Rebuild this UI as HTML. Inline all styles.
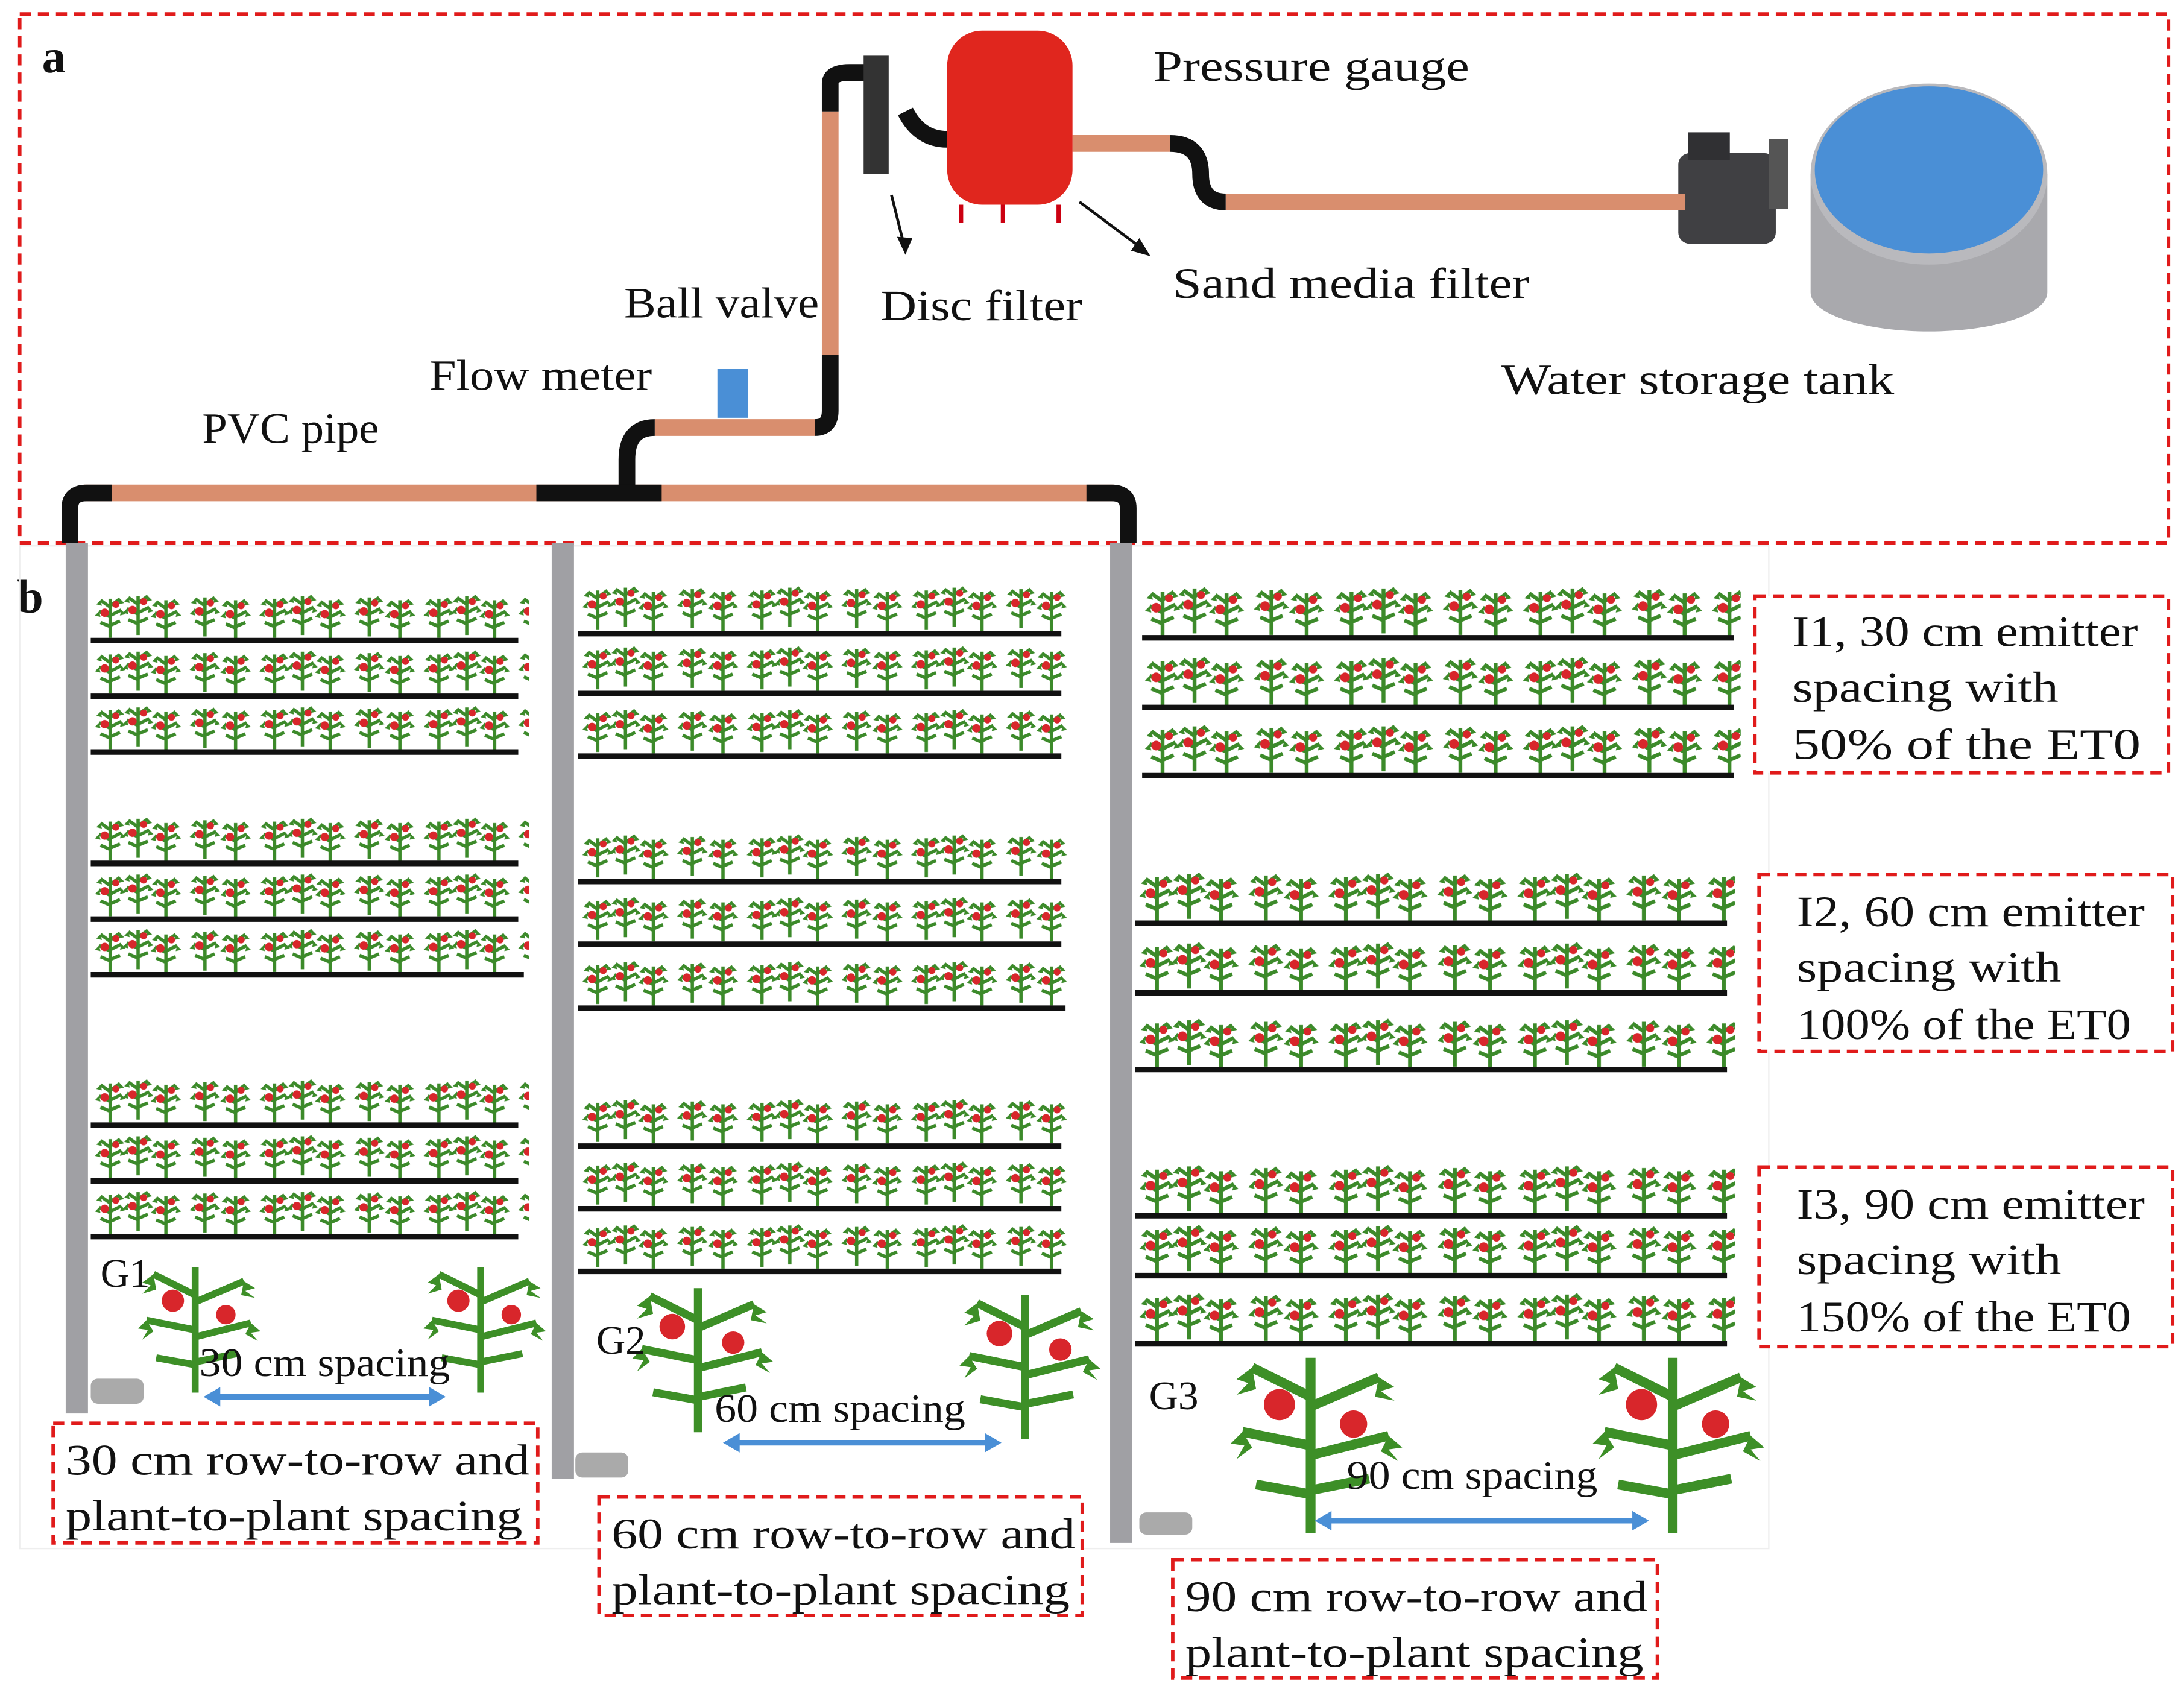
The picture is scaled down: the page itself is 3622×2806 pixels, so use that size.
<!DOCTYPE html>
<html><head><meta charset="utf-8"><style>
html,body{margin:0;padding:0;background:#fff;}
svg{display:block;}
text{font-family:"Liberation Serif",serif;fill:#111;}
</style></head><body>
<svg width="3622" height="2806" viewBox="0 0 1568 1215" xmlns="http://www.w3.org/2000/svg">
<defs>
<g id="pl">
 <path d="M9 32 L9 4 M9 10 L2 5 M9 9 L16 4 M9 17 L1 13 M9 16 L17 12 M9 24 L2 21 M9 23 L16 20" stroke="#3c8a2a" stroke-width="2.4" fill="none"/>
 <path d="M2 5 l-3 3 4 1z M16 4 l3 3-4 1z M1 13 l-3 3 4 1z M17 12 l3 3-4 1z" fill="#3c8a2a"/>
 <circle cx="5" cy="14" r="3" fill="#d8262b"/>
 <circle cx="13" cy="8" r="2.5" fill="#d8262b"/>
</g>
<pattern id="row" x="0" y="0" width="118" height="60" patternUnits="userSpaceOnUse">
 <use href="#pl" x="2" y="2"/><use href="#pl" x="22" y="0"/><use href="#pl" x="42" y="3"/>
 <use href="#pl" x="70" y="1"/><use href="#pl" x="92" y="3"/>
</pattern>
<g id="big">
 <path d="M40 90 L40 0 M40 20 L10 5 M40 25 L75 10 M40 45 L5 38 M40 50 L80 40 M40 70 L12 65 M40 68 L70 62" stroke="#3d8f27" stroke-width="5" fill="none"/>
 <path d="M10 5 l-8 6 6 2 -6 6 10-3z M75 10 l8 5-7 2 7 5-10-2z M5 38 l-6 6 7 1-4 7 8-6z M80 40 l7 6-7 1 5 6-9-5z" fill="#3d8f27"/>
 <circle cx="24" cy="24" r="8" fill="#d8262b"/><circle cx="62" cy="34" r="7" fill="#d8262b"/>
</g>
</defs>

<rect x="14" y="10" width="1543" height="380" fill="none" stroke="#e01b1b" stroke-width="2.5" stroke-dasharray="8,5"/>
<text x="30" y="52" font-size="34" font-weight="bold">a</text>
<text x="12" y="440" font-size="34" font-weight="bold">b</text>

<path d="M1300 125 L1300 210 A85 28 0 0 0 1470 210 L1470 125 Z" fill="#a9a9ad"/>
<ellipse cx="1385" cy="125" rx="85" ry="65" fill="#b9b9bd"/>
<ellipse cx="1385" cy="122" rx="82" ry="60" fill="#4a8fd6"/>
<rect x="1205" y="110" width="70" height="65" rx="8" fill="#404043"/>
<rect x="1212" y="95" width="30" height="20" fill="#303033"/>
<rect x="1270" y="100" width="14" height="50" fill="#555"/>
<g stroke="#d98e6e" stroke-width="12" fill="none">
 <line x1="880" y1="145" x2="1210" y2="145"/>
 <line x1="770" y1="103" x2="840" y2="103"/>
 <line x1="596" y1="80" x2="596" y2="255"/>
 <line x1="470" y1="307" x2="585" y2="307"/>
 <line x1="60" y1="354" x2="800" y2="354"/>
</g>
<g stroke="#111" stroke-width="12" fill="none">
 <path d="M840 103 Q862 103 862 125 Q862 145 880 145"/>
 <path d="M596 255 L596 295 Q596 307 585 307"/>
 <path d="M470 307 Q450 307 450 330 L450 354"/>
 <path d="M596 80 L596 60 Q596 52 610 52 L630 52"/>
 <path d="M650 80 Q660 100 680 100"/>
 <path d="M50 390 L50 365 Q50 354 62 354 L80 354"/>
 <path d="M810 390 L810 365 Q810 354 798 354 L780 354"/>
 <line x1="385" y1="354" x2="475" y2="354"/>
</g>
<rect x="620" y="40" width="18" height="85" fill="#333"/>
<rect x="680" y="22" width="90" height="125" rx="25" fill="#e0261e"/>
<g stroke="#c01" stroke-width="3"><line x1="690" y1="147" x2="690" y2="160"/><line x1="720" y1="147" x2="720" y2="160"/><line x1="760" y1="147" x2="760" y2="160"/></g>
<rect x="515" y="265" width="22" height="35" fill="#4a8fd6"/>
<g stroke="#111" stroke-width="2"><line x1="640" y1="140" x2="650" y2="180"/><line x1="775" y1="145" x2="822" y2="180"/></g>
<path d="M650 183 L644 170 L655 171Z M826 184 L812 180 L818 171Z" fill="#111"/>
<g font-size="31">
<text x="828" y="58" textLength="227" lengthAdjust="spacingAndGlyphs">Pressure gauge</text>
<text x="448" y="228" textLength="140" lengthAdjust="spacingAndGlyphs">Ball valve</text>
<text x="632" y="230" textLength="145" lengthAdjust="spacingAndGlyphs">Disc filter</text>
<text x="842" y="214" textLength="256" lengthAdjust="spacingAndGlyphs">Sand media filter</text>
<text x="308" y="280" textLength="160" lengthAdjust="spacingAndGlyphs">Flow meter</text>
<text x="145" y="318" textLength="127" lengthAdjust="spacingAndGlyphs">PVC pipe</text>
<text x="1078" y="283" textLength="282" lengthAdjust="spacingAndGlyphs">Water storage tank</text>
</g>

<rect x="14" y="392" width="1256" height="720" fill="none" stroke="#eee" stroke-width="1"/>
<g fill="#a0a0a4">
 <rect x="47" y="390" width="16" height="625"/>
 <rect x="396" y="390" width="16" height="672"/>
 <rect x="797" y="390" width="16" height="718"/>
</g>
<g fill="url(#row)">
 <rect transform="translate(68,424)" width="312" height="35"/><rect transform="translate(68,464)" width="312" height="35"/><rect transform="translate(68,504)" width="312" height="35"/>
 <rect transform="translate(68,584)" width="312" height="35"/><rect transform="translate(68,624)" width="312" height="35"/><rect transform="translate(68,664)" width="312" height="35"/>
 <rect transform="translate(68,772)" width="312" height="35"/><rect transform="translate(68,812)" width="312" height="35"/><rect transform="translate(68,852)" width="312" height="35"/>
 <rect transform="translate(418,418)" width="352" height="36"/><rect transform="translate(418,461)" width="352" height="36"/><rect transform="translate(418,506)" width="352" height="36"/>
 <rect transform="translate(418,596)" width="352" height="36"/><rect transform="translate(418,641)" width="352" height="36"/><rect transform="translate(418,687)" width="352" height="36"/>
 <rect transform="translate(418,786)" width="352" height="36"/><rect transform="translate(418,831)" width="352" height="36"/><rect transform="translate(418,876)" width="352" height="36"/>
 <rect transform="translate(822,418) scale(1.15)" width="372" height="34"/><rect transform="translate(822,468) scale(1.15)" width="372" height="34"/><rect transform="translate(822,517) scale(1.15)" width="372" height="34"/>
 <rect transform="translate(818,623) scale(1.15)" width="372" height="34"/><rect transform="translate(818,673) scale(1.15)" width="372" height="34"/><rect transform="translate(818,728) scale(1.15)" width="372" height="34"/>
 <rect transform="translate(818,833) scale(1.15)" width="372" height="34"/><rect transform="translate(818,876) scale(1.15)" width="372" height="34"/><rect transform="translate(818,925) scale(1.15)" width="372" height="34"/>
</g>
<g stroke="#111" stroke-width="4">
 <line x1="65" y1="460" x2="372" y2="460"/><line x1="65" y1="500" x2="372" y2="500"/><line x1="65" y1="540" x2="372" y2="540"/>
 <line x1="65" y1="620" x2="372" y2="620"/><line x1="65" y1="660" x2="372" y2="660"/><line x1="65" y1="700" x2="376" y2="700"/>
 <line x1="65" y1="808" x2="372" y2="808"/><line x1="65" y1="848" x2="372" y2="848"/><line x1="65" y1="888" x2="372" y2="888"/>
 <line x1="415" y1="455" x2="762" y2="455"/><line x1="415" y1="498" x2="762" y2="498"/><line x1="415" y1="543" x2="762" y2="543"/>
 <line x1="415" y1="633" x2="762" y2="633"/><line x1="415" y1="678" x2="762" y2="678"/><line x1="415" y1="724" x2="765" y2="724"/>
 <line x1="415" y1="823" x2="762" y2="823"/><line x1="415" y1="868" x2="762" y2="868"/><line x1="415" y1="913" x2="762" y2="913"/>
 <line x1="820" y1="458" x2="1245" y2="458"/><line x1="820" y1="508" x2="1245" y2="508"/><line x1="820" y1="557" x2="1245" y2="557"/>
 <line x1="815" y1="663" x2="1240" y2="663"/><line x1="815" y1="713" x2="1240" y2="713"/><line x1="815" y1="768" x2="1240" y2="768"/>
 <line x1="815" y1="873" x2="1240" y2="873"/><line x1="815" y1="916" x2="1240" y2="916"/><line x1="815" y1="965" x2="1240" y2="965"/>
</g>
<g transform="translate(100,910)"><use href="#big"/></g>
<g transform="translate(305,910)"><use href="#big"/></g>
<g transform="translate(455,925) scale(1.15)"><use href="#big"/></g>
<g transform="translate(690,930) scale(1.15)"><use href="#big"/></g>
<g transform="translate(885,975) scale(1.4)"><use href="#big"/></g>
<g transform="translate(1145,975) scale(1.4)"><use href="#big"/></g>
<rect x="65" y="990" width="38" height="18" rx="5" fill="#aaa"/>
<rect x="413" y="1043" width="38" height="18" rx="5" fill="#aaa"/>
<rect x="818" y="1086" width="38" height="16" rx="5" fill="#aaa"/>
<g stroke="#4a8fd6" stroke-width="4">
 <line x1="155" y1="1003" x2="312" y2="1003"/><line x1="528" y1="1036" x2="710" y2="1036"/><line x1="953" y1="1092" x2="1175" y2="1092"/>
</g>
<g fill="#4a8fd6">
 <path d="M146 1003 l12-7 0 14z M320 1003 l-12-7 0 14z M519 1036 l12-7 0 14z M719 1036 l-12-7 0 14z M944 1092 l12-7 0 14z M1184 1092 l-12-7 0 14z"/>
</g>
<g font-size="29">
<text x="72" y="924">G1</text><text x="428" y="972">G2</text><text x="825" y="1012">G3</text>
<text x="143" y="988" textLength="180" lengthAdjust="spacingAndGlyphs">30 cm spacing</text>
<text x="513" y="1021" textLength="180" lengthAdjust="spacingAndGlyphs">60 cm spacing</text>
<text x="967" y="1069" textLength="180" lengthAdjust="spacingAndGlyphs">90 cm spacing</text>
</g>
<g fill="#fff" stroke="#e01b1b" stroke-width="2.5" stroke-dasharray="8,5">
 <rect x="1260" y="428" width="297" height="127"/>
 <rect x="1263" y="628" width="297" height="127"/>
 <rect x="1263" y="838" width="297" height="129"/>
 <rect x="38" y="1022" width="348" height="86"/>
 <rect x="430" y="1075" width="347" height="85"/>
 <rect x="842" y="1120" width="348" height="85"/>
</g>
<g font-size="31" lengthAdjust="spacingAndGlyphs">
<text x="1287" y="464" textLength="248" lengthAdjust="spacingAndGlyphs">I1, 30 cm emitter</text><text x="1287" y="504" textLength="191" lengthAdjust="spacingAndGlyphs">spacing with</text><text x="1287" y="545" textLength="250" lengthAdjust="spacingAndGlyphs">50% of the ET0</text>
<text x="1290" y="665" textLength="250" lengthAdjust="spacingAndGlyphs">I2, 60 cm emitter</text><text x="1290" y="705" textLength="190" lengthAdjust="spacingAndGlyphs">spacing with</text><text x="1290" y="746" textLength="240" lengthAdjust="spacingAndGlyphs">100% of the ET0</text>
<text x="1290" y="875" textLength="250" lengthAdjust="spacingAndGlyphs">I3, 90 cm emitter</text><text x="1290" y="915" textLength="190" lengthAdjust="spacingAndGlyphs">spacing with</text><text x="1290" y="956" textLength="240" lengthAdjust="spacingAndGlyphs">150% of the ET0</text>
<text x="47" y="1059" textLength="333" lengthAdjust="spacingAndGlyphs">30 cm row-to-row and</text><text x="47" y="1099" textLength="328" lengthAdjust="spacingAndGlyphs">plant-to-plant spacing</text>
<text x="439" y="1112" textLength="333" lengthAdjust="spacingAndGlyphs">60 cm row-to-row and</text><text x="439" y="1152" textLength="329" lengthAdjust="spacingAndGlyphs">plant-to-plant spacing</text>
<text x="851" y="1157" textLength="332" lengthAdjust="spacingAndGlyphs">90 cm row-to-row and</text><text x="851" y="1197" textLength="329" lengthAdjust="spacingAndGlyphs">plant-to-plant spacing</text>
</g>
</svg>
</body></html>
